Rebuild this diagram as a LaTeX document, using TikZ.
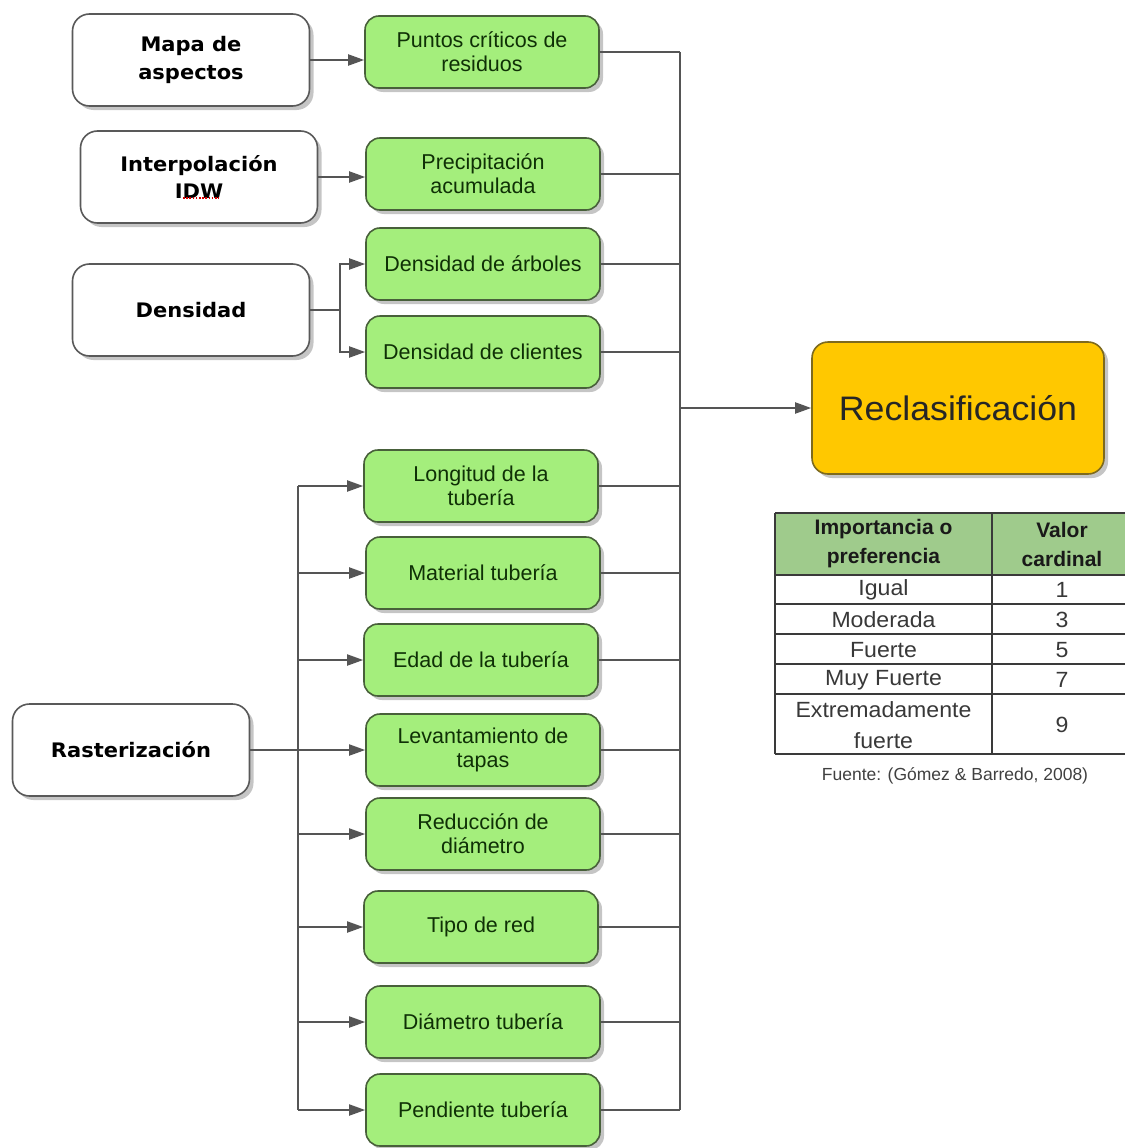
\documentclass[tikz,border=0pt]{standalone}
\usepackage{fontspec}
\setmainfont{Liberation Sans}
\newfontfamily\greenfont{Liberation Sans}
\newfontfamily\whitefont[FakeStretch=1.05]{DejaVu Sans}
\newfontfamily\tablefont[FakeStretch=1.05]{Liberation Sans}
\newfontfamily\bigfont[FakeStretch=1.05]{Liberation Sans}
\usetikzlibrary{shadows,arrows.meta,calc}

\definecolor{leaf}{HTML}{A4EE7C}
\definecolor{leafline}{HTML}{48603A}
\definecolor{leaftext}{HTML}{0F3006}
\definecolor{gold}{HTML}{FFC800}
\definecolor{goldline}{HTML}{7D6A1E}
\definecolor{wirecol}{HTML}{555555}
\definecolor{headfill}{HTML}{9FCB8C}
\definecolor{gridcol}{HTML}{3A3A3A}

\tikzset{
  boxshadow/.style={drop shadow={shadow xshift=4pt, shadow yshift=-4pt, fill=black!45}},
  srcbox/.style={draw=black!65, line width=1.6pt, fill=white, rounded corners=17pt,
    minimum width=237pt, minimum height=92pt, align=center, text=black,
    font=\whitefont\bfseries\fontsize{20}{28}\selectfont, boxshadow},
  layerbox/.style={draw=leafline, line width=1.6pt, fill=leaf, rounded corners=14pt,
    minimum width=234pt, minimum height=72pt, align=center, text=leaftext,
    font=\greenfont\fontsize{21.5}{24}\selectfont, boxshadow},
  resultbox/.style={draw=goldline, line width=1.6pt, fill=gold, rounded corners=16pt,
    minimum width=292pt, minimum height=132pt, align=center, text=black!85,
    font=\bigfont\fontsize{34}{40}\selectfont, boxshadow},
  wire/.style={draw=wirecol, line width=1.9pt},
  feed/.style={wire, -{Triangle[length=16pt,width=11pt]}},
  gridline/.style={draw=gridcol, line width=1.3pt},
  headcell/.style={inner sep=0pt, align=center, text=black!90,
    font=\greenfont\bfseries\fontsize{21}{29}\selectfont},
  cell/.style={inner sep=0pt, align=center, text=black!78,
    font=\tablefont\fontsize{22}{31}\selectfont},
  spellmark/.style={draw=red!85!black, line width=2pt, dash pattern=on 1.6pt off 1.6pt}
}

\begin{document}
\begin{tikzpicture}[x=1pt,y=-1pt]
\useasboundingbox (0,0) rectangle (1125,1148);

% source operations
\node[srcbox] (map)  at (191,60)  {Mapa de\\aspectos};
\node[srcbox] (idw)  at (199,177) {Interpolación\\IDW};
\node[srcbox] (dens) at (191,310) {Densidad};
\node[srcbox] (rast) at (131,750) {Rasterización};
\draw[spellmark] ($(idw.center)+(-16,21)$) -- ($(idw.center)+(20,21)$);

% criteria layers
\node[layerbox] (pc) at (482,52)   {Puntos críticos de\\residuos};
\node[layerbox] (pa) at (483,174)  {Precipitación\\acumulada};
\node[layerbox] (da) at (483,264)  {Densidad de árboles};
\node[layerbox] (dc) at (483,352)  {Densidad de clientes};
\node[layerbox] (lt) at (481,486)  {Longitud de la\\tubería};
\node[layerbox] (mt) at (483,573)  {Material tubería};
\node[layerbox] (et) at (481,660)  {Edad de la tubería};
\node[layerbox] (lv) at (483,750)  {Levantamiento de\\tapas};
\node[layerbox] (rd) at (483,834)  {Reducción de\\diámetro};
\node[layerbox] (tr) at (481,927)  {Tipo de red};
\node[layerbox] (dt) at (483,1022) {Diámetro tubería};
\node[layerbox] (pt) at (483,1110) {Pendiente tubería};

% result
\node[resultbox] (recl) at (958,408) {Reclasificación};

% inputs to layers
\draw[feed] (map.east) -- (map.east -| pc.west);
\draw[feed] (idw.east) -- (idw.east -| pa.west);
\coordinate (dj) at ($(dens.east)+(30,0)$);
\draw[wire] (dens.east) -- (dj);
\draw[feed] (dj) |- (da.west);
\draw[feed] (dj) |- (dc.west);

\coordinate (lbus) at (298,0);
\draw[wire] (rast.east) -- (rast.east -| lbus);
\draw[wire] (lt.west -| lbus) -- (pt.west -| lbus);
\foreach \n in {lt,mt,et,lv,rd,tr,dt,pt}
  \draw[feed] (\n.west -| lbus) -- (\n.west);

% layers to reclassification
\coordinate (rbus) at (680,0);
\foreach \n in {pc,pa,da,dc,lt,mt,et,lv,rd,tr,dt,pt}
  \draw[wire] (\n.east) -- (\n.east -| rbus);
\draw[wire] (pc.east -| rbus) -- (pt.east -| rbus);
\draw[feed] (recl.west -| rbus) -- (recl.west);

% scale table
\fill[headfill] (775,513) rectangle (1125,575);
\foreach \y in {513,575,604,634,664,694,754}
  \draw[gridline] (775,\y) -- (1125,\y);
\draw[gridline] (775,513) -- (775,754);
\draw[gridline] (992,513) -- (992,754);

\node[headcell] (h1) at (883.5,544) {Importancia o\\preferencia};
\node[headcell] (h2) at (1062,544)  {Valor\\cardinal};
\node[cell] (c1) at (883.5,590) {Igual};
\node[cell] (v1) at (1062,590)  {1};
\node[cell] (c2) at (883.5,620) {Moderada};
\node[cell] (v2) at (1062,620)  {3};
\node[cell] (c3) at (883.5,650) {Fuerte};
\node[cell] (v3) at (1062,650)  {5};
\node[cell] (c4) at (883.5,680) {Muy Fuerte};
\node[cell] (v4) at (1062,680)  {7};
\node[cell] (c5) at (883.5,725) {Extremadamente\\fuerte};
\node[cell] (v5) at (1062,725)  {9};

\node[inner sep=0pt, text=black!75, font=\greenfont\fontsize{17.5}{20}\selectfont] (src) at (955,776)
  {Fuente: (Gómez \& Barredo, 2008)};
\end{tikzpicture}
\end{document}
